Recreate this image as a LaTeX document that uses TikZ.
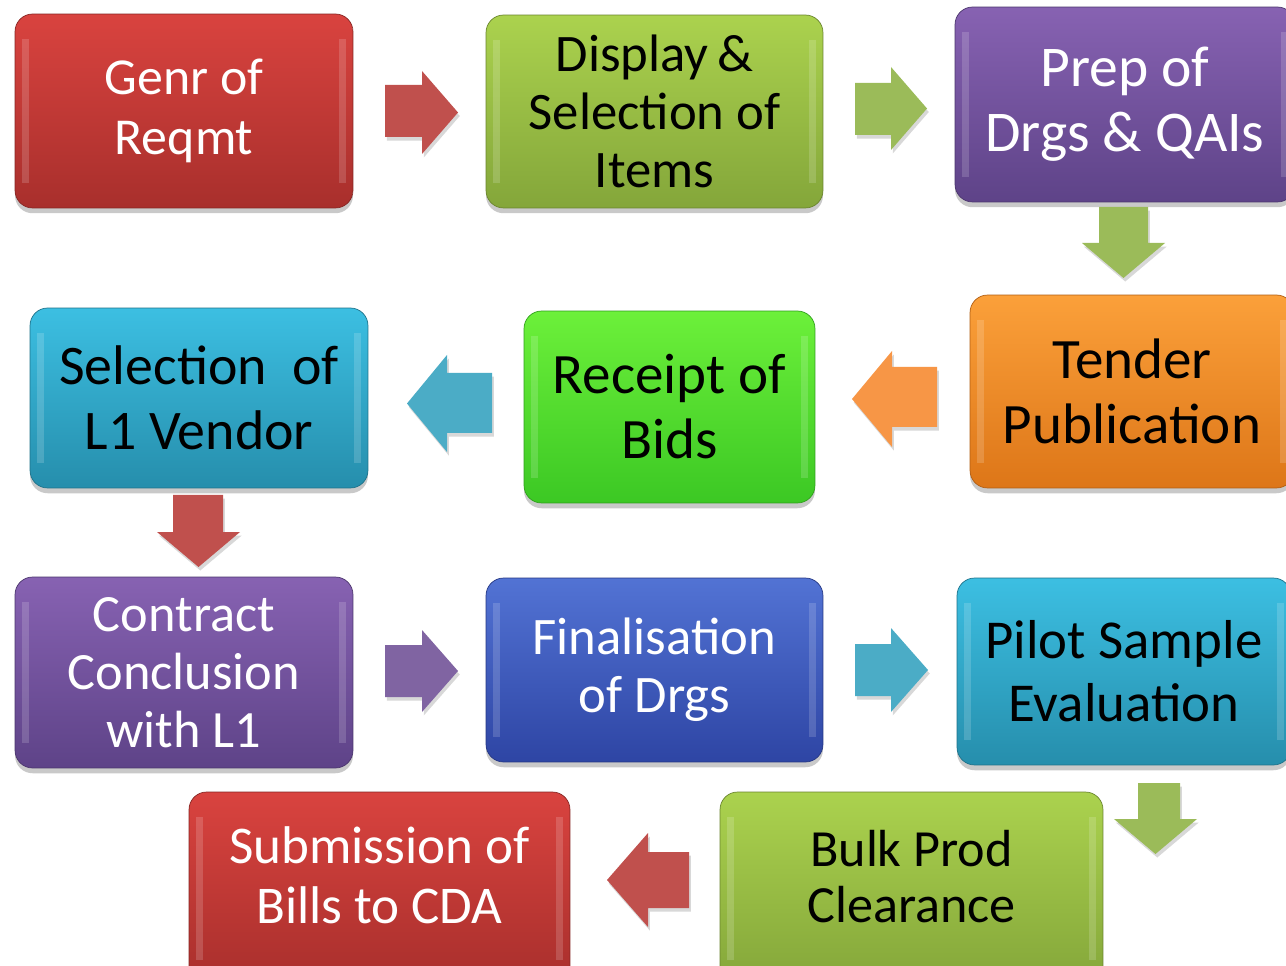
\documentclass[tikz,border=0pt]{standalone}
\usepackage{fontspec}
\setmainfont{Carlito}
\usetikzlibrary{shadows}
\definecolor{redT}{HTML}{D9433F}\definecolor{redB}{HTML}{A82F2C}\definecolor{redA}{HTML}{C0504D}
\definecolor{grnT}{HTML}{ABD24E}\definecolor{grnB}{HTML}{84A63A}\definecolor{grnA}{HTML}{9BBB59}
\definecolor{purT}{HTML}{8762B2}\definecolor{purB}{HTML}{5E4388}\definecolor{purA}{HTML}{8064A2}
\definecolor{orgT}{HTML}{FBA03A}\definecolor{orgB}{HTML}{DD7618}\definecolor{orgA}{HTML}{F79646}
\definecolor{limT}{HTML}{6CF03A}\definecolor{limB}{HTML}{3CC824}
\definecolor{cyaT}{HTML}{3CBFE2}\definecolor{cyaB}{HTML}{268EAC}\definecolor{cyaA}{HTML}{4BACC6}
\definecolor{bluT}{HTML}{5273D4}\definecolor{bluB}{HTML}{2E45A4}
\tikzset{
  box/.style={rounded corners=10pt, inner sep=0pt, align=center,
    drop shadow={shadow xshift=0pt, shadow yshift=-3pt, opacity=0.35, fill=black!60},
    path picture={
      \fill[white,opacity=0.16,sharp corners] ([xshift=4pt,yshift=-14pt]path picture bounding box.north west) rectangle ([xshift=8pt,yshift=14pt]path picture bounding box.south west);
      \fill[white,opacity=0.16,sharp corners] ([xshift=-4pt,yshift=-14pt]path picture bounding box.north east) rectangle ([xshift=-8pt,yshift=14pt]path picture bounding box.south east);
    }},
  redbox/.style={box, top color=redT, bottom color=redB, draw=redB!80!black, text=white},
  grnbox/.style={box, top color=grnT, bottom color=grnB, draw=grnB!80!black, text=black},
  purbox/.style={box, top color=purT, bottom color=purB, draw=purB!80!black, text=white},
  orgbox/.style={box, top color=orgT, bottom color=orgB, draw=orgB!80!black, text=black},
  limbox/.style={box, top color=limT, bottom color=limB, draw=limB!80!black, text=black},
  cyabox/.style={box, top color=cyaT, bottom color=cyaB, draw=cyaB!80!black, text=black},
  blubox/.style={box, top color=bluT, bottom color=bluB, draw=bluB!80!black, text=white},
  barrow/.style={drop shadow={shadow xshift=1pt, shadow yshift=-2pt, opacity=0.25, fill=black!60}},
}
\begin{document}
\begin{tikzpicture}[x=0.02cm,y=-0.02cm]
\useasboundingbox (0,0) rectangle (1286,966);
\fill[white] (0,0) rectangle (1286,966);
\begin{scope}
\clip (0,0) rectangle (1286,966);
% boxes
\node[redbox, minimum width=6.76cm, minimum height=3.88cm, font=\fontsize{29.5}{34}\selectfont] (genr) at (184,111) {Genr of\\Reqmt};
\node[grnbox, minimum width=6.74cm, minimum height=3.86cm, font=\fontsize{30}{33}\selectfont] (disp) at (654.5,111.5) {Display\,\&\\Selection of\\Items};
\node[purbox, minimum width=6.8cm, minimum height=3.9cm, font=\fontsize{32.8}{37}\selectfont] (prep) at (1125,104.5) {Prep of\\Drgs \& QAIs};
\node[orgbox, minimum width=6.48cm, minimum height=3.86cm, font=\fontsize{32.5}{37}\selectfont] (tend) at (1132,391.5) {Tender\\Publication};
\node[limbox, minimum width=5.82cm, minimum height=3.84cm, font=\fontsize{32.5}{37}\selectfont] (rcpt) at (669.5,407) {Receipt of\\Bids};
\node[cyabox, minimum width=6.76cm, minimum height=3.6cm, font=\fontsize{31.8}{37}\selectfont] (sell) at (199,398) {Selection\ \ of\\L1 Vendor};
\node[purbox, minimum width=6.76cm, minimum height=3.82cm, font=\fontsize{29.8}{33}\selectfont] (cont) at (184,672.5) {Contract\\Conclusion\\with L1};
\node[blubox, minimum width=6.74cm, minimum height=3.68cm, font=\fontsize{30}{33}\selectfont] (finl) at (654.5,670) {Finalisation\\of Drgs};
\node[cyabox, minimum width=6.68cm, minimum height=3.74cm, font=\fontsize{31.2}{35.7}\selectfont] (pilt) at (1124,671.5) {Pilot Sample\\Evaluation};
\node[grnbox, minimum width=7.66cm, minimum height=3.86cm, font=\fontsize{29.7}{32.3}\selectfont] (bulk) at (911.5,888.5) {\raisebox{3pt}[\height][\depth]{\begin{tabular}{@{}c@{}}Bulk Prod\\Clearance\end{tabular}}};
\node[redbox, minimum width=7.62cm, minimum height=3.86cm, font=\fontsize{30.2}{34}\selectfont] (subm) at (379.5,888.5) {\raisebox{4pt}[\height][\depth]{\begin{tabular}{@{}c@{}}Submission of\\Bills to CDA\end{tabular}}};
% block arrows
\fill[redA, barrow] (385,85) -- (422,85) -- (422,71) -- (458,112.5) -- (422,154) -- (422,137) -- (385,137) -- cycle;
\fill[grnA, barrow] (855,83) -- (891,83) -- (891,67) -- (927,108.5) -- (891,150) -- (891,135) -- (855,135) -- cycle;
\fill[grnA, barrow] (1099,207) -- (1148,207) -- (1148,243) -- (1165,243) -- (1123.5,278) -- (1082,243) -- (1099,243) -- cycle;
\fill[orgA, barrow] (937,367) -- (892,367) -- (892,351) -- (852,399) -- (892,447) -- (892,427) -- (937,427) -- cycle;
\fill[cyaA, barrow] (492,373) -- (447,373) -- (447,355) -- (407,403.5) -- (447,452) -- (447,433) -- (492,433) -- cycle;
\fill[redA, barrow] (173,495) -- (223,495) -- (223,532) -- (240,532) -- (198.5,567) -- (157,532) -- (173,532) -- cycle;
\fill[purA, barrow] (385,645) -- (422,645) -- (422,630) -- (458,671) -- (422,712) -- (422,697) -- (385,697) -- cycle;
\fill[cyaA, barrow] (855,644) -- (891,644) -- (891,628) -- (928,670) -- (891,712) -- (891,696) -- (855,696) -- cycle;
\fill[grnA, barrow] (1138,783) -- (1180,783) -- (1180,819) -- (1197,819) -- (1155.5,854) -- (1114,819) -- (1138,819) -- cycle;
\fill[redA, barrow] (689,852) -- (648,852) -- (648,833) -- (607,880) -- (648,927) -- (648,908) -- (689,908) -- cycle;
\end{scope}
\end{tikzpicture}
\end{document}
